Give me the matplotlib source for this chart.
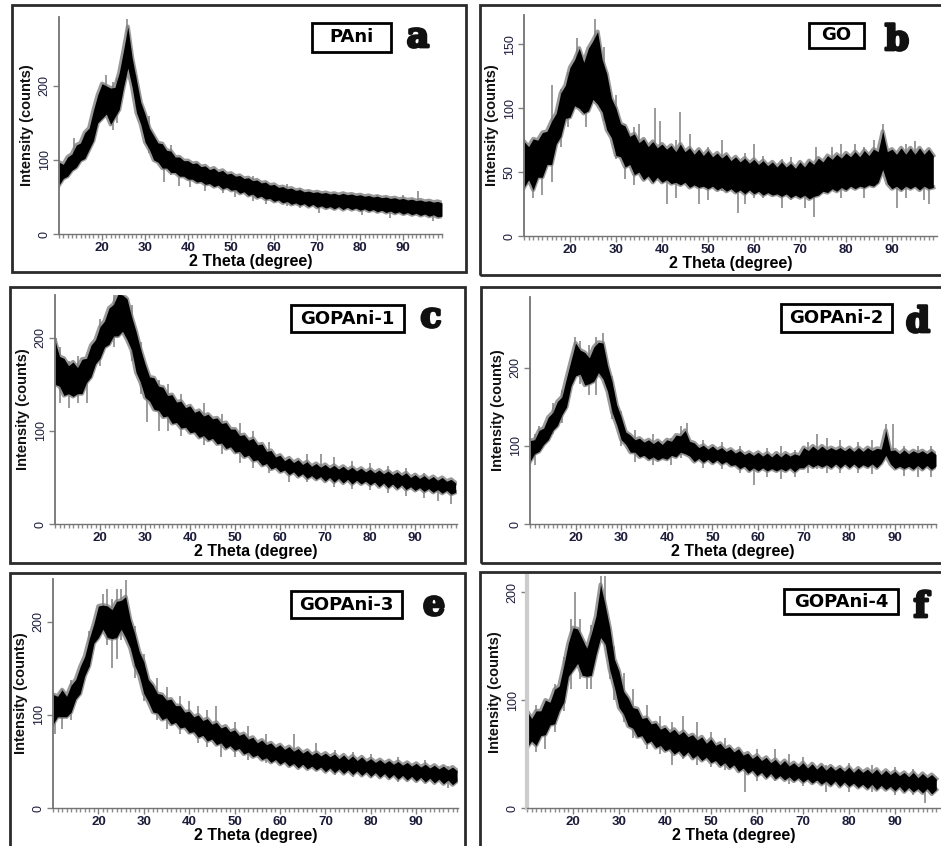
import matplotlib
matplotlib.use("Agg")
import matplotlib.pyplot as plt
import matplotlib.patheffects as pe
from matplotlib.patches import Rectangle
from matplotlib.ticker import MultipleLocator

# 2-theta grid (degrees), one reading per degree
two_theta = list(range(10, 100))

# lower / upper edge of the noisy trace for each sample
pani_lo = [66, 75, 78, 86, 90, 99, 102, 114, 126, 150,
           156, 162, 148, 158, 168, 198, 224, 198, 164, 148,
           124, 114, 100, 97, 89, 89, 83, 83, 78, 78,
           74, 74, 70, 71, 67, 68, 64, 66, 61, 63,
           59, 60, 55, 57, 52, 54, 49, 51, 47, 48,
           44, 46, 42, 44, 40, 42, 39, 41, 37, 40,
           36, 38, 35, 37, 34, 37, 33, 36, 33, 35,
           32, 34, 31, 33, 30, 32, 29, 31, 28, 30,
           27, 29, 26, 28, 25, 27, 24, 26, 23, 24]
pani_hi = [97, 94, 104, 108, 120, 123, 137, 143, 167, 188,
           203, 200, 197, 198, 218, 248, 280, 238, 208, 178,
           162, 143, 133, 123, 122, 113, 112, 104, 104, 99,
           99, 95, 96, 91, 92, 87, 89, 84, 86, 81,
           82, 78, 79, 75, 76, 72, 73, 69, 70, 66,
           67, 63, 64, 61, 62, 59, 60, 57, 58, 56,
           57, 55, 56, 54, 55, 53, 55, 53, 54, 52,
           53, 51, 52, 50, 51, 49, 50, 48, 49, 47,
           48, 46, 47, 45, 46, 44, 45, 43, 44, 42]
pani_spikes = [(13.5, 95, 130), (16, 105, 135), (21, 170, 215), (22.5, 140, 205),
               (23.5, 150, 210), (25.7, 240, 290), (28, 170, 215), (31, 110, 160),
               (34.5, 70, 105), (36, 80, 120), (38, 65, 100), (40.5, 63, 95),
               (44, 58, 90), (48, 55, 85), (51, 50, 78), (55, 45, 78), (58, 40, 70),
               (63, 38, 68), (66, 35, 62), (70.5, 28, 50), (74, 32, 56), (80.5, 25, 47),
               (84, 28, 52), (87, 22, 45), (90, 25, 52), (93.5, 30, 58), (97, 18, 35)]

go_lo = [38, 44, 36, 46, 46, 56, 56, 72, 78, 92,
         93, 102, 100, 96, 98, 107, 103, 97, 83, 77,
         63, 62, 54, 56, 48, 50, 44, 47, 42, 46,
         42, 44, 41, 42, 40, 42, 38, 40, 38, 39,
         37, 39, 36, 38, 35, 37, 34, 36, 33, 36,
         33, 35, 32, 34, 32, 33, 31, 33, 30, 32,
         30, 32, 29, 31, 32, 35, 34, 37, 35, 38,
         36, 39, 37, 39, 38, 40, 39, 42, 52, 41,
         37, 39, 36, 39, 37, 39, 36, 39, 37, 38]
go_hi = [74, 70, 76, 75, 81, 82, 90, 96, 112, 118,
         132, 138, 147, 136, 147, 153, 160, 138, 127, 108,
         100, 88, 86, 78, 80, 73, 76, 70, 74, 69,
         72, 68, 71, 66, 72, 66, 69, 64, 68, 63,
         67, 62, 65, 61, 64, 59, 62, 58, 61, 57,
         60, 56, 59, 55, 58, 54, 58, 54, 57, 53,
         58, 54, 59, 56, 61, 58, 63, 60, 64, 61,
         65, 62, 66, 62, 67, 63, 68, 66, 82, 66,
         68, 64, 69, 64, 69, 64, 69, 64, 68, 63]
go_spikes = [(12, 30, 60), (14, 32, 60), (16, 42, 118), (18, 70, 115), (19.5, 85, 128),
             (21.5, 100, 155), (23.5, 85, 130), (25.5, 120, 170), (27.5, 90, 148),
             (30, 60, 110), (32, 45, 88), (34, 40, 85), (35, 50, 88), (38.5, 50, 100),
             (39.5, 55, 90), (41, 25, 60), (43, 30, 75), (44, 50, 97), (46, 40, 80),
             (48, 25, 55), (50, 28, 70), (53, 35, 75), (56.5, 18, 45), (58, 25, 65),
             (60, 30, 72), (62, 30, 63), (66, 22, 60), (68, 28, 62), (71, 22, 55),
             (73, 15, 45), (73.5, 40, 70), (77, 45, 70), (79, 30, 72), (82, 45, 72),
             (84, 30, 70), (86, 50, 75), (88, 55, 88), (91, 22, 50), (93, 30, 72),
             (95, 50, 74), (97, 28, 50), (98, 25, 65)]

gp1_lo = [150, 148, 138, 140, 137, 140, 140, 152, 158, 172,
          178, 190, 193, 202, 202, 207, 198, 187, 163, 152,
          136, 132, 123, 122, 115, 116, 108, 109, 103, 104,
          98, 99, 93, 95, 90, 92, 86, 87, 81, 83,
          77, 78, 72, 74, 68, 69, 63, 65, 59, 61,
          56, 58, 53, 56, 51, 54, 49, 52, 48, 51,
          46, 50, 45, 49, 44, 48, 43, 47, 43, 46,
          42, 45, 40, 44, 39, 43, 38, 42, 37, 40,
          36, 39, 35, 38, 34, 37, 33, 36, 32, 34]
gp1_hi = [197, 180, 178, 170, 174, 168, 177, 178, 192, 198,
          212, 218, 232, 236, 247, 246, 242, 223, 207, 188,
          172, 158, 157, 148, 147, 138, 139, 131, 132, 125,
          127, 120, 122, 116, 118, 113, 114, 108, 109, 102,
          102, 95, 96, 90, 92, 85, 86, 78, 79, 72,
          74, 68, 71, 66, 69, 64, 67, 62, 65, 61,
          64, 60, 63, 59, 62, 58, 61, 57, 60, 56,
          59, 55, 58, 54, 57, 53, 56, 52, 55, 50,
          53, 49, 52, 48, 51, 47, 50, 46, 48, 44]
gp1_spikes = [(10.2, 150, 200), (11, 130, 190), (13, 125, 175), (15, 130, 180),
              (17, 130, 170), (20, 170, 220), (23, 190, 250), (25, 220, 250),
              (27, 175, 235), (29, 140, 195), (30.5, 110, 150), (33, 100, 155),
              (35, 100, 150), (38, 95, 140), (43, 85, 130), (47, 75, 118),
              (51, 65, 108), (54, 60, 100), (57.5, 55, 88), (62, 45, 70),
              (66, 45, 75), (69, 55, 75), (72, 40, 72), (76, 38, 68), (80, 36, 66),
              (84, 33, 62), (88, 30, 60), (92, 28, 55), (95, 25, 45), (98, 22, 42)]

gp2_lo = [80, 90, 93, 102, 108, 120, 126, 140, 150, 177,
          190, 192, 178, 180, 183, 194, 186, 170, 143, 127,
          108, 102, 92, 92, 86, 88, 83, 86, 82, 85,
          83, 88, 86, 92, 90, 87, 80, 84, 79, 83,
          78, 82, 77, 80, 75, 76, 71, 74, 68, 72,
          68, 72, 68, 71, 68, 71, 68, 72, 67, 72,
          72, 77, 73, 76, 73, 76, 72, 77, 72, 77,
          72, 77, 72, 76, 73, 77, 72, 78, 88, 77,
          71, 74, 71, 74, 70, 75, 70, 75, 70, 74]
gp2_hi = [107, 108, 120, 123, 137, 143, 157, 163, 187, 210,
          232, 223, 220, 213, 227, 233, 232, 203, 182, 153,
          137, 118, 114, 108, 110, 105, 108, 103, 107, 102,
          108, 106, 114, 113, 120, 106, 104, 98, 101, 96,
          100, 95, 98, 93, 96, 91, 94, 89, 92, 88,
          92, 87, 91, 86, 91, 86, 91, 87, 90, 88,
          98, 94, 100, 95, 100, 95, 98, 95, 98, 94,
          98, 93, 98, 93, 98, 94, 97, 96, 120, 94,
          95, 90, 95, 90, 94, 91, 94, 90, 94, 89]
gp2_spikes = [(11, 75, 115), (12, 95, 125), (15, 115, 155), (17, 130, 172),
              (19.8, 190, 240), (21, 180, 235), (23, 165, 230), (24.5, 165, 240),
              (26, 200, 245), (28, 135, 190), (30, 100, 145), (33, 80, 120),
              (37, 75, 115), (41, 75, 110), (43, 85, 125), (44.5, 90, 130),
              (48, 72, 108), (52, 70, 105), (56, 65, 100), (59, 50, 80),
              (62, 60, 98), (65, 58, 100), (68, 60, 95), (71, 65, 105), (73, 70, 115),
              (75, 65, 110), (78, 66, 108), (82, 65, 105), (85, 64, 108),
              (88, 95, 128), (89.5, 85, 128), (92, 62, 100), (95, 60, 100), (98, 60, 100)]

gp3_lo = [90, 98, 98, 98, 103, 117, 123, 142, 153, 177,
          183, 192, 183, 182, 183, 192, 183, 172, 153, 142,
          123, 114, 103, 102, 95, 97, 90, 92, 86, 87,
          81, 82, 76, 78, 72, 74, 68, 70, 64, 67,
          62, 64, 58, 60, 55, 57, 52, 54, 49, 52,
          47, 50, 45, 48, 43, 47, 42, 45, 41, 44,
          39, 43, 38, 42, 37, 41, 36, 40, 35, 39,
          34, 38, 33, 37, 32, 36, 31, 35, 30, 34,
          29, 33, 28, 32, 27, 31, 26, 30, 25, 29]
gp3_hi = [122, 120, 127, 120, 132, 138, 152, 163, 182, 198,
          217, 218, 217, 213, 222, 223, 227, 203, 187, 168,
          157, 138, 132, 123, 122, 116, 117, 110, 110, 103,
          104, 98, 100, 94, 96, 90, 92, 86, 88, 82,
          84, 78, 80, 74, 76, 70, 73, 68, 70, 65,
          68, 63, 66, 61, 64, 59, 62, 57, 60, 56,
          59, 55, 58, 53, 57, 52, 56, 51, 55, 50,
          53, 49, 52, 48, 51, 47, 50, 46, 49, 45,
          48, 44, 47, 43, 46, 42, 45, 41, 44, 40]
gp3_spikes = [(10.5, 80, 120), (12, 85, 128), (14, 95, 138), (18, 150, 190),
              (21, 200, 230), (22, 175, 235), (23, 150, 225), (24, 160, 235),
              (25, 180, 235), (26, 195, 245), (28, 140, 195), (30, 115, 165),
              (33, 95, 140), (35, 85, 130), (38, 80, 120), (40, 80, 115),
              (42, 70, 110), (44, 65, 105), (46, 75, 110), (47, 55, 80),
              (50, 55, 92), (53, 52, 88), (57, 48, 80), (63, 45, 80), (68, 40, 70),
              (72, 35, 62), (76, 33, 60), (80, 32, 58), (86, 28, 55), (92, 27, 52),
              (97, 22, 45)]

gp4_lo = [56, 62, 58, 67, 68, 77, 78, 90, 98, 122,
          128, 134, 123, 122, 123, 142, 158, 152, 128, 112,
          93, 87, 76, 74, 66, 67, 60, 62, 56, 58,
          53, 55, 50, 53, 48, 52, 46, 49, 44, 47,
          42, 44, 39, 42, 37, 40, 34, 37, 32, 35,
          30, 33, 28, 32, 27, 30, 26, 29, 25, 28,
          24, 27, 23, 26, 22, 25, 21, 25, 20, 24,
          20, 23, 19, 22, 18, 22, 17, 21, 17, 20,
          16, 20, 15, 19, 15, 18, 14, 18, 13, 17]
gp4_hi = [90, 83, 90, 90, 100, 98, 110, 113, 132, 153,
          167, 166, 157, 148, 162, 178, 207, 188, 167, 138,
          127, 108, 102, 93, 92, 83, 84, 78, 79, 73,
          75, 70, 73, 68, 71, 66, 68, 63, 66, 60,
          64, 58, 60, 55, 57, 52, 55, 49, 51, 46,
          49, 44, 47, 42, 45, 40, 44, 39, 42, 38,
          42, 37, 41, 36, 40, 35, 39, 35, 38, 34,
          38, 33, 37, 33, 36, 32, 36, 31, 35, 31,
          34, 30, 33, 29, 33, 28, 32, 28, 31, 27]
gp4_spikes = [(10.3, 45, 95), (12, 52, 95), (14, 55, 85), (16, 70, 115),
              (18, 90, 140), (19.5, 110, 175), (20.5, 140, 200), (21.5, 120, 175),
              (23, 110, 150), (24, 110, 170), (26, 170, 215), (27, 150, 215),
              (28, 120, 160), (29, 100, 150), (31, 80, 125), (33, 65, 110),
              (36, 55, 95), (39, 50, 85), (41.5, 40, 80), (44, 45, 85), (47, 40, 80),
              (50, 38, 70), (53, 35, 65), (57.5, 15, 45), (60, 25, 55), (64, 25, 55),
              (67, 22, 50), (70, 20, 47), (75, 15, 40), (80, 15, 42), (85, 15, 40),
              (90, 12, 38), (94, 12, 36), (96.5, 5, 25)]

names = ["PAni", "GO", "GOPAni-1", "GOPAni-2", "GOPAni-3", "GOPAni-4"]
letters = ["a", "b", "c", "d", "e", "f"]
lows = [pani_lo, go_lo, gp1_lo, gp2_lo, gp3_lo, gp4_lo]
highs = [pani_hi, go_hi, gp1_hi, gp2_hi, gp3_hi, gp4_hi]
spikes = [pani_spikes, go_spikes, gp1_spikes, gp2_spikes, gp3_spikes, gp4_spikes]
yticks = [[0, 100, 200], [0, 50, 100, 150], [0, 100, 200],
          [0, 100, 200], [0, 100, 200], [0, 100, 200]]
xticks = [20, 30, 40, 50, 60, 70, 80, 90]

# layout in pixels (left, top, right, bottom)
W, H = 941, 846
frames = [(12, 5, 466, 272), (480, 5, 960, 275), (10, 287, 465, 563),
          (481, 287, 960, 563), (10, 573, 465, 870), (480, 572, 960, 870)]
axes_px = [(59, 17, 442, 234), (524, 15, 937, 236), (55, 295, 457, 524),
           (530, 297, 936, 524), (53, 579, 458, 808), (527, 576, 940, 808)]
xmax = [99, 99.8, 99.3, 99, 99.2, 99.8]
ymax = [293, 173, 246, 291, 246, 215]
name_boxes = [(312, 23, 391, 52), (809, 23, 864, 48), (291, 305, 404, 332),
              (781, 304, 892, 332), (291, 591, 402, 618), (784, 589, 898, 614)]
letter_pos = [(418, 47), (897, 50), (431, 327), (918, 332), (434, 615), (921, 617)]

TICK_COL = "#1c1c3a"


def fx(x):
    return x / W


def fy(y):
    return 1 - y / H


fig = plt.figure(figsize=(W / 100, H / 100), dpi=100)

for (x0, y0, x1, y1) in frames:
    fig.patches.append(Rectangle((fx(x0), fy(y1)), fx(x1 - x0), (y1 - y0) / H,
                                 transform=fig.transFigure, fill=False,
                                 edgecolor="#2b2b2b", linewidth=2))

for i in range(6):
    l, t, r, b = axes_px[i]
    ax = fig.add_axes([fx(l), fy(b), fx(r - l), (b - t) / H])
    # grey halo of the trace, spikes, then the dense black core
    ax.plot(two_theta, lows[i], color="0.6", lw=3, zorder=1)
    ax.plot(two_theta, highs[i], color="0.6", lw=3, zorder=1)
    sx, slo, shi = zip(*spikes[i])
    ax.vlines(sx, slo, shi, color="0.5", lw=1.1, zorder=1.5)
    ax.fill_between(two_theta, lows[i], highs[i], color="black", lw=0, zorder=2)

    ax.set_xlim(10, xmax[i])
    ax.set_ylim(0, ymax[i])
    for s in ["top", "right"]:
        ax.spines[s].set_visible(False)
    ax.spines["left"].set_color("0.8" if i == 5 else "0.45")
    ax.spines["left"].set_linewidth(3 if i == 5 else 1.3)
    ax.spines["bottom"].set_color("0.45")
    ax.spines["bottom"].set_linewidth(1)

    ax.set_xticks(xticks)
    ax.xaxis.set_minor_locator(MultipleLocator(1))
    ax.tick_params(axis="x", which="minor", direction="out", length=3, width=1,
                   colors="0.55")
    ax.tick_params(axis="x", which="major", direction="out", length=4, width=1,
                   colors="0.5", labelcolor=TICK_COL, labelsize=9.5, pad=2)
    for lab in ax.get_xticklabels():
        lab.set_fontweight("bold")
        lab.set_family("Liberation Sans")

    ax.set_yticks(yticks[i])
    ax.tick_params(axis="y", direction="out", length=4, width=1, colors="0.5",
                   labelcolor=TICK_COL, labelsize=9, pad=2)
    for lab in ax.get_yticklabels():
        lab.set_rotation(90)
        lab.set_va("center")
        lab.set_family("Liberation Sans")

    ax.set_xlabel("2 Theta (degree)", fontsize=11.5, fontweight="bold",
                  family="Liberation Sans", labelpad=0)
    ax.set_ylabel("Intensity (counts)", fontsize=10.5, fontweight="bold",
                  family="Liberation Sans", labelpad=3, color="#111111")

    bx0, by0, bx1, by1 = name_boxes[i]
    fig.patches.append(Rectangle((fx(bx0), fy(by1)), fx(bx1 - bx0), (by1 - by0) / H,
                                 transform=fig.transFigure, facecolor="white",
                                 edgecolor="black", linewidth=2, zorder=5))
    fig.text(fx((bx0 + bx1) / 2), fy((by0 + by1) / 2), names[i], ha="center",
             va="center", fontsize=13, fontweight="bold", family="DejaVu Sans",
             zorder=6)
    lx, ly = letter_pos[i]
    fig.text(fx(lx), fy(ly), letters[i], ha="center", va="baseline", fontsize=25,
             fontweight="heavy", family="DejaVu Serif", color="#111111", zorder=6,
             path_effects=[pe.withStroke(linewidth=2, foreground="#111111")])

fig.savefig("out.png", dpi=100)
